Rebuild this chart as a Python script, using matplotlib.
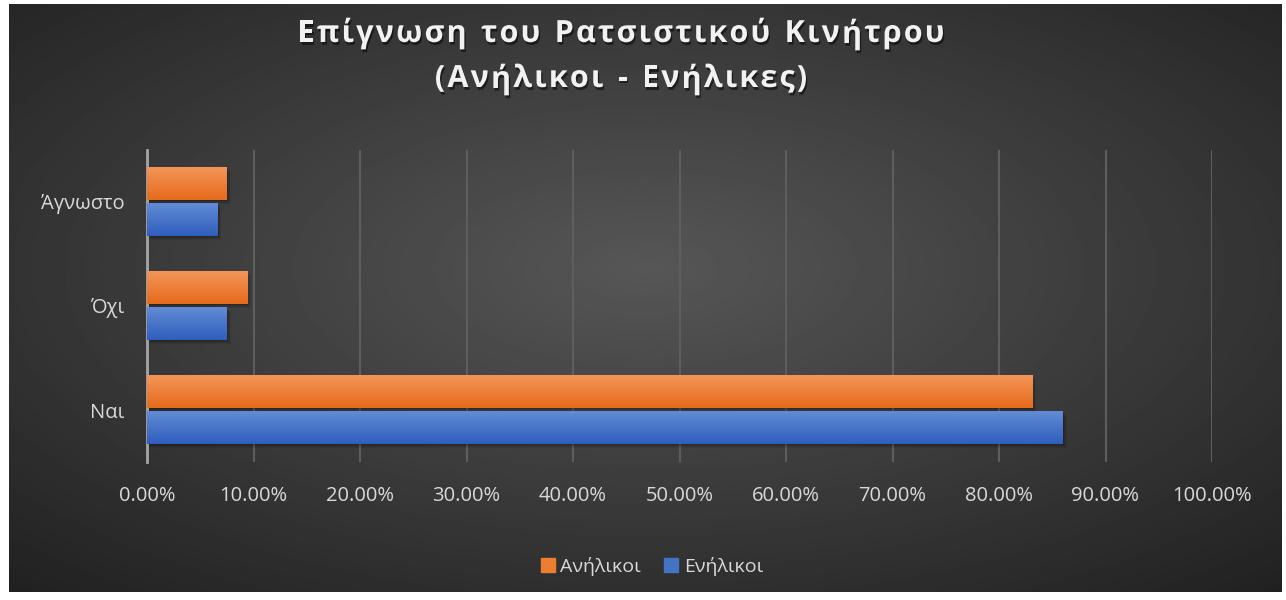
import matplotlib
matplotlib.use("Agg")
import matplotlib.pyplot as plt
import matplotlib.patheffects as pe
import numpy as np
from matplotlib.patches import Rectangle

categories = ["Ναι", "Όχι", "Άγνωστο"]
minors = [83.1, 9.4, 7.5]   # Ανήλικοι
adults = [86.0, 7.5, 6.6]   # Ενήλικοι
series_names = ["Ανήλικοι", "Ενήλικοι"]
xticks = [0, 10, 20, 30, 40, 50, 60, 70, 80, 90, 100]
title_lines = ["Επίγνωση του Ρατσιστικού Κινήτρου", "(Ανήλικοι - Ενήλικες)"]

plt.rcParams["font.family"] = ["Open Sans", "DejaVu Sans"]

W, H = 1286, 600
fig = plt.figure(figsize=(W / 100, H / 100), dpi=100)
fig.patch.set_facecolor("white")

# radial gradient background of the chart frame
bg = fig.add_axes([9 / W, 8 / H, 1273 / W, 588 / H])
yy, xx = np.mgrid[-1:1:300j, -1:1:600j]
r = np.sqrt(xx ** 2 + (yy + 0.1) ** 2) / np.sqrt(2)
bg.imshow(0.34 - 0.2 * r, cmap="gray", vmin=0, vmax=1, aspect="auto",
          extent=[0, 1, 0, 1])
bg.set_axis_off()

ax = fig.add_axes([147 / W, (H - 462) / H, (1212 - 147) / W, 312 / H])
ax.set_facecolor("none")
ax.set_xlim(0, 100)
ax.set_ylim(-0.5, 2.5)

y = np.arange(len(categories))
h = 0.308
gap = 0.019


def grad_bar(ax, y0, width, height, c_top, c_bot):
    cmap = matplotlib.colors.LinearSegmentedColormap.from_list("g", [c_bot, c_top])
    g = np.linspace(0, 1, 50).reshape(-1, 1)
    # soft shadow
    for k, a in [(1, 0.18), (2, 0.12), (3, 0.07)]:
        ax.add_patch(Rectangle((0, y0 - 0.012 * k), width + 0.13 * k, height,
                               color="black", alpha=a, lw=0, zorder=2))
    ax.imshow(g, cmap=cmap, aspect="auto", origin="lower",
              extent=[0, width, y0, y0 + height], zorder=3)


for i in range(len(categories)):
    grad_bar(ax, y[i] + gap, minors[i], h, "#f3955a", "#e66a1a")
    grad_bar(ax, y[i] - gap - h, adults[i], h, "#628bd6", "#2f5fbd")

ax.set_xlim(0, 100)
ax.set_ylim(-0.5, 2.5)
ax.set_xticks(xticks)
ax.set_xticklabels([f"{v:.2f}%" for v in xticks])
ax.set_yticks(y)
ax.set_yticklabels(categories)
ax.tick_params(colors="#d9d9d9", labelsize=14.5, length=0)
ax.tick_params(axis="x", pad=17)
ax.tick_params(axis="y", pad=16)
ax.grid(axis="x", color="#5e5e5e", lw=1.5, zorder=0)
ax.set_axisbelow(True)
for s in ["top", "right", "bottom"]:
    ax.spines[s].set_visible(False)
ax.spines["left"].set_color("#a6a6a6")
ax.spines["left"].set_linewidth(2)

# title with letter spacing, drawn char by char
renderer = fig.canvas.get_renderer()
tkw = dict(color="#f2f2f2", fontsize=22, fontweight="bold", va="center",
           path_effects=[pe.withSimplePatchShadow(offset=(1, -2), shadow_rgbFace="black", alpha=0.5)])
spacing = 2.2
for line, yc in zip(title_lines, [34, 79]):
    widths = []
    for ch in line:
        t = fig.text(0, 0, ch if ch != " " else "n", **tkw)
        w = t.get_window_extent(renderer).width
        if ch == " ":
            w *= 0.5
        widths.append(w)
        t.remove()
    total = sum(widths) + spacing * (len(line) - 1)
    x = 621 - total / 2
    for ch, w in zip(line, widths):
        if ch != " ":
            fig.text(x / W, 1 - yc / H, ch, ha="left", **tkw)
        x += w + spacing

handles = [Rectangle((0, 0), 1, 1, color="#ed7d31"),
           Rectangle((0, 0), 1, 1, color="#4472c4")]
fig.legend(handles, series_names, loc="center", bbox_to_anchor=(652 / W, 1 - 566 / H),
           ncol=2, frameon=False, fontsize=14, labelcolor="#d9d9d9",
           handlelength=0.7, handleheight=0.7, handletextpad=0.3, columnspacing=1.2)

fig.savefig("out.png", dpi=100)
